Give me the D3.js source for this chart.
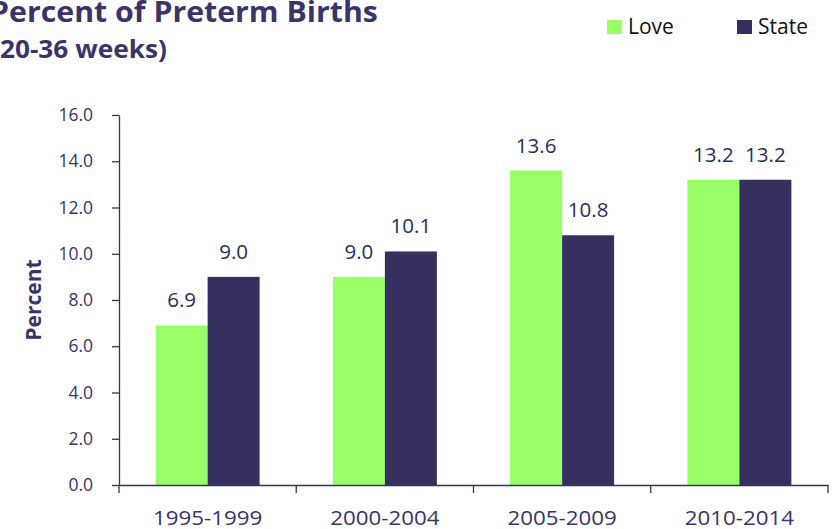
<!DOCTYPE html>
<html>
<head>
<meta charset="utf-8">
<script src="https://cdn.jsdelivr.net/npm/d3@7"></script>
<style>
  body { margin: 0; background: #fff; }
  svg { display: block; font-family: "Open Sans", sans-serif; }
</style>
</head>
<body>
<div id="chart"></div>
<script>
var periods = ["1995-1999", "2000-2004", "2005-2009", "2010-2014"];
var seriesNames = ["Love", "State"];
var loveValues = [6.9, 9.0, 13.6, 13.2];
var stateValues = [9.0, 10.1, 10.8, 13.2];
var yTicks = [0, 2, 4, 6, 8, 10, 12, 14, 16];

var colors = { Love: "#99ff66", State: "#35305f" };
var axisColor = "#35305f";
var textColor = "#3a3468";

var width = 836, height = 529;
var margin = { top: 115, right: 8, bottom: 44, left: 119 };
var innerWidth = width - margin.left - margin.right;
var innerHeight = height - margin.top - margin.bottom;

var svg = d3.select("#chart").append("svg")
    .attr("width", width)
    .attr("height", height);

// title, partly cut at the left edge like the source
svg.append("text")
    .attr("transform", "translate(-10,22) scale(1.045,1)")
    .attr("fill", textColor)
    .attr("font-size", 29).attr("font-weight", "bold")
    .text("Percent of Preterm Births");
svg.append("text")
    .attr("transform", "translate(-9,58) scale(1.05,1)")
    .attr("fill", textColor)
    .attr("font-size", 25).attr("font-weight", "bold")
    .text("(20-36 weeks)");

// legend
var legend = svg.append("g");
var legendX = [607, 737];
seriesNames.forEach(function (name, i) {
    legend.append("rect")
        .attr("x", legendX[i]).attr("y", 20)
        .attr("width", 15).attr("height", 14)
        .attr("fill", colors[name]);
    legend.append("text")
        .attr("x", legendX[i] + 21).attr("y", 34)
        .attr("font-size", 21).attr("fill", "#111")
        .text(name);
});

var g = svg.append("g")
    .attr("transform", "translate(" + margin.left + "," + margin.top + ")");

var groupWidth = 104;
var x0 = d3.scaleBand().domain(periods).range([0, innerWidth]).padding(0);
var x1 = d3.scaleBand().domain(seriesNames).range([0, groupWidth]);
var y = d3.scaleLinear().domain([0, 16]).range([innerHeight, 0]);

var rows = periods.map(function (p, i) {
    return { period: p, values: [
        { key: "Love", value: loveValues[i] },
        { key: "State", value: stateValues[i] }
    ] };
});

var groupOffset = (x0.bandwidth() - groupWidth) / 2;

var groups = g.selectAll(".grp").data(rows).enter().append("g")
    .attr("class", "grp")
    .attr("transform", function (d) { return "translate(" + (x0(d.period) + groupOffset) + ",0)"; });

groups.selectAll("rect").data(function (d) { return d.values; }).enter().append("rect")
    .attr("x", function (d) { return x1(d.key); })
    .attr("y", function (d) { return y(d.value); })
    .attr("width", x1.bandwidth())
    .attr("height", function (d) { return innerHeight - y(d.value); })
    .attr("fill", function (d) { return colors[d.key]; });

groups.selectAll(".lbl").data(function (d) { return d.values; }).enter().append("text")
    .attr("class", "lbl")
    .attr("x", function (d) { return x1(d.key) + x1.bandwidth() / 2; })
    .attr("y", function (d) { return y(d.value) - 18; })
    .attr("text-anchor", "middle")
    .attr("font-size", 20.5)
    .attr("fill", "#1f3060")
    .text(function (d) { return d.value.toFixed(1); });

// y axis
var yAxis = g.append("g")
    .call(d3.axisLeft(y).tickValues(yTicks).tickSize(7).tickSizeOuter(0)
        .tickFormat(function (d) { return d.toFixed(1); }));
yAxis.select(".domain").attr("stroke", axisColor).attr("stroke-width", 1.3);
yAxis.selectAll(".tick line").attr("stroke", axisColor).attr("stroke-width", 1.3);
yAxis.selectAll(".tick text")
    .attr("x", -26)
    .attr("font-size", 17.5).attr("fill", textColor)
    .attr("font-family", "'Open Sans', sans-serif");

// x axis
var sx = 1.09;
var xAxis = g.append("g")
    .attr("transform", "translate(0," + innerHeight + ")")
    .call(d3.axisBottom(x0).tickSize(0).tickSizeOuter(0));
xAxis.select(".domain").attr("stroke", axisColor).attr("stroke-width", 1.3);
xAxis.selectAll(".tick text")
    .attr("y", 40).attr("dy", 0)
    .attr("transform", "scale(" + sx + ",1)")
    .attr("font-size", 20.5).attr("fill", textColor)
    .attr("font-family", "'Open Sans', sans-serif");

// small ticks between categories
var seps = periods.map(function (p) { return x0(p); }).concat([innerWidth]);
xAxis.selectAll(".sep").data(seps).enter().append("line")
    .attr("class", "sep")
    .attr("x1", function (d) { return d; }).attr("x2", function (d) { return d; })
    .attr("y1", 0).attr("y2", 8)
    .attr("stroke", axisColor).attr("stroke-width", 1.3);

// y axis title
svg.append("text")
    .attr("transform", "translate(41," + (margin.top + innerHeight / 2) + ") rotate(-90)")
    .attr("text-anchor", "middle")
    .attr("font-size", 21).attr("font-weight", "bold")
    .attr("fill", textColor)
    .text("Percent");
</script>
</body>
</html>
